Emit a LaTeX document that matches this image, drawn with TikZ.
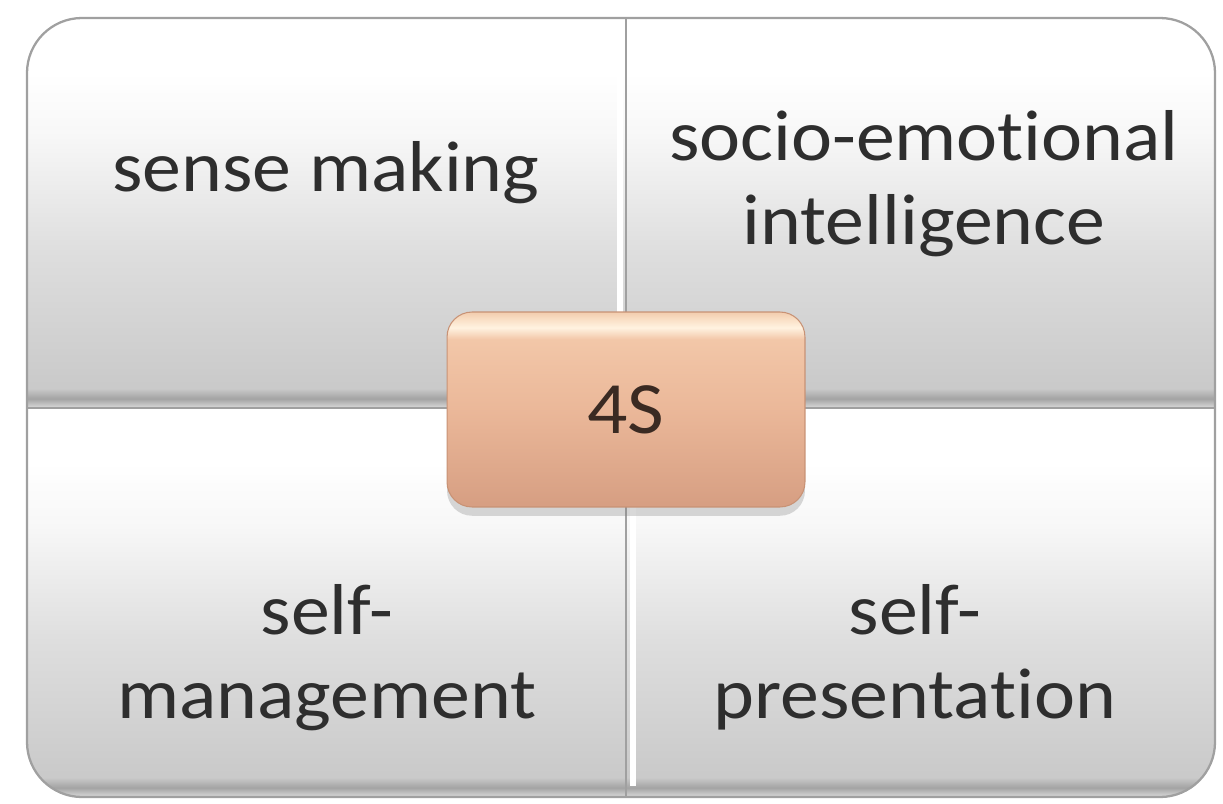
\documentclass[tikz,border=0pt]{standalone}
\usepackage{fontspec}
\setmainfont{Carlito}[FakeStretch=1.08, Ligatures=CommonOff]
\usepackage{tikz}
\usetikzlibrary{shadows}

\definecolor{quadline}{HTML}{A0A0A0}
\definecolor{labelink}{HTML}{2E2E2E}
\definecolor{boxink}{HTML}{3A2A22}
\definecolor{boxedge}{HTML}{C89275}

\pgfdeclareverticalshading{quadshade}{100bp}{
  rgb(0bp)=(0.80,0.80,0.80);
  rgb(25bp)=(0.86,0.86,0.86);
  rgb(26.2bp)=(0.64,0.64,0.64);
  rgb(27.5bp)=(0.79,0.79,0.79);
  rgb(45bp)=(0.87,0.87,0.87);
  rgb(60bp)=(0.97,0.97,0.97);
  rgb(68bp)=(1,1,1);
  rgb(100bp)=(1,1,1)}
\pgfdeclareverticalshading{boxshade}{100bp}{
  rgb(0bp)=(0.84,0.62,0.51);
  rgb(25bp)=(0.84,0.62,0.51);
  rgb(50bp)=(0.92,0.72,0.60);
  rgb(68bp)=(0.95,0.78,0.66);
  rgb(71bp)=(1.00,0.95,0.88);
  rgb(73bp)=(0.98,0.88,0.78);
  rgb(75bp)=(0.95,0.80,0.68);
  rgb(100bp)=(0.95,0.80,0.68)}

\tikzset{
    quadface/.style={
        shading=quadshade
    },
    quadborder/.style={
        draw=quadline,
        line width=1pt
    },
    quadgloss/.style={
        draw=white,
        line width=3pt
    },
    quadlabel/.style={
        anchor=base,
        align=center,
        text=labelink,
        inner sep=0pt,
        font=\fontsize{41}{47.5}\selectfont
    },
    hubbox/.style={
        shade,
        shading=boxshade,
        draw=boxedge,
        line width=0.6pt,
        rounded corners=0.5cm,
        minimum width=7.16cm,
        minimum height=3.9cm,
        text=boxink,
        font=\fontsize{42}{48}\selectfont,
        drop shadow={shadow xshift=0pt, shadow yshift=-5pt, opacity=0.3}
    }
}

\begin{document}
\begin{tikzpicture}[x=0.02cm, y=-0.02cm]
    \useasboundingbox (0,0) rectangle (1223,804);

    \begin{scope}
        \clip[rounded corners=1.1cm] (27,18) rectangle (1215,797);
        \shade[quadface] (27,18) rectangle (626,408);
        \shade[quadface] (626,18) rectangle (1215,408);
        \shade[quadface] (27,408) rectangle (626,797);
        \shade[quadface] (626,408) rectangle (1215,797);
    \end{scope}

    % soft highlight along the inner edges
    \draw[quadgloss] (620,30) -- (620,398);
    \draw[quadgloss] (633,418) -- (633,786);

    \draw[quadborder] (626,18) -- (626,797);
    \draw[quadborder] (27,408) -- (1215,408);
    \draw[quadborder, line width=1.3pt, rounded corners=1.1cm] (27,18) rectangle (1215,797);

    \node[quadlabel] (sense) at (326,192) {sense making};
    \node[quadlabel] (socio) at (924,244) {socio-emotional\\intelligence};
    \node[quadlabel] (selfman) at (327,718) {self-\\management};
    \node[quadlabel] (selfpres) at (915,718) {self-\\presentation};

    \node[hubbox] (hub) at (626,409.5) {4S};
\end{tikzpicture}
\end{document}
